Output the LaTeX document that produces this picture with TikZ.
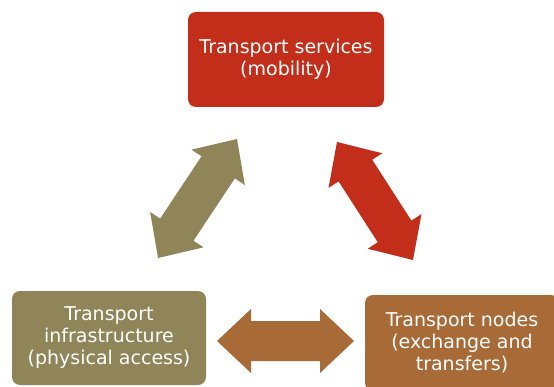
\documentclass[tikz,border=0pt]{standalone}
\usepackage{fontspec}
\setmainfont{DejaVu Sans}
\usetikzlibrary{calc}
\definecolor{servred}{rgb}{0.76,0.18,0.10}
\definecolor{infraolive}{rgb}{0.56,0.52,0.35}
\definecolor{nodebrown}{rgb}{0.66,0.42,0.22}

\tikzset{
	box/.style={fill=#1, text=white, rounded corners=8pt, align=center, inner sep=0pt,
		font=\fontsize{19}{22}\selectfont},
}
% fat two-headed arrow from #1 to #2
\newcommand{\dblarrow}[3]{%
	\fill[#3] let \p1=($(#2)-(#1)$), \n1={atan2(\y1,\x1)}, \n2={veclen(\x1,\y1)} in
	[shift={(#1)}, rotate=\n1] (0,0) -- (34,32) -- (34,20) -- (\n2-34,20) -- (\n2-34,32) -- (\n2,0)
	-- (\n2-34,-32) -- (\n2-34,-20) -- (34,-20) -- (34,-32) -- cycle;}

\begin{document}
\begin{tikzpicture}[x=1pt,y=1pt]
	\clip (0,0) rectangle (554,386);
	
	\node(services) [box=servred, minimum width=196, minimum height=95] at (286,326.5) {Transport services\\(mobility)};
	\node(infra) [box=infraolive, minimum width=194, minimum height=94] at (109,48) {Transport\\infrastructure\\(physical access)};
	\node(nodes) [box=nodebrown, minimum width=194, minimum height=96] at (462,43) {Transport nodes\\(exchange and\\transfers)};
	
	% arrow ends
	\coordinate (infratip) at (158,128);
	\coordinate (servtipl) at (237,247);
	\coordinate (servtipr) at (337,244);
	\coordinate (nodestip) at (413,126);
	\coordinate (infratipr) at (217,45);
	\coordinate (nodestipl) at (354,45);
	
	\dblarrow{infratip}{servtipl}{infraolive}
	\dblarrow{servtipr}{nodestip}{servred}
	\dblarrow{infratipr}{nodestipl}{nodebrown}
\end{tikzpicture}
\end{document}
